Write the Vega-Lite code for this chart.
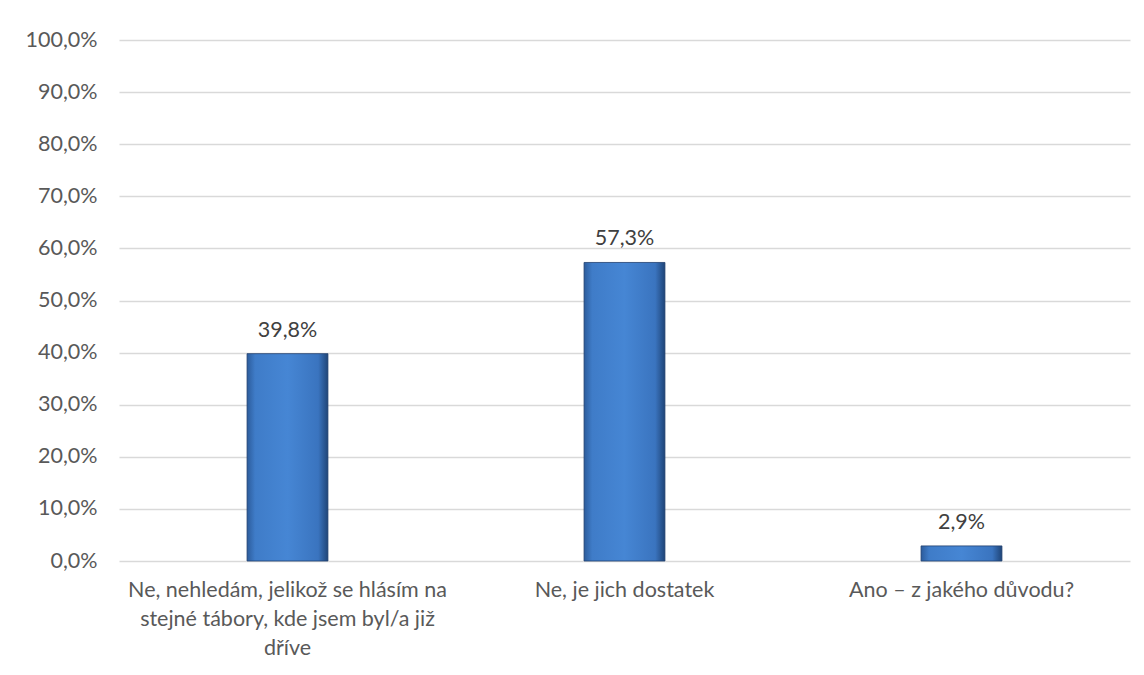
{
  "$schema": "https://vega.github.io/schema/vega-lite/v6.json",
  "width": 1011,
  "height": 521,
  "autosize": {"type": "none"},
  "padding": {"left": 119, "top": 40, "right": 14, "bottom": 114},
  "background": "white",
  "config": {
    "locale": {"number": {"decimal": ",", "thousands": " ", "grouping": [3], "currency": ["", " Kč"]}},
    "view": {"stroke": null},
    "font": "Lato"
  },
  "data": {
    "values": [
      {"kategorie": "Ne, nehledám, jelikož se hlásím na|stejné tábory, kde jsem byl/a již|dříve", "podil": 0.398},
      {"kategorie": "Ne, je jich dostatek", "podil": 0.573},
      {"kategorie": "Ano – z jakého důvodu?", "podil": 0.029}
    ]
  },
  "encoding": {
    "x": {
      "field": "kategorie",
      "type": "nominal",
      "sort": null,
      "scale": {"paddingInner": 0.76, "paddingOuter": 0.38},
      "axis": {
        "title": null,
        "labelAngle": 0,
        "domain": false,
        "ticks": false,
        "labelPadding": 18,
        "labelFont": "Lato",
        "labelFontSize": 21.5,
        "labelColor": "#595959",
        "labelLineHeight": 29,
        "labelLimit": 450,
        "labelOverlap": false,
        "labelExpr": "split(datum.value, '|')"
      }
    },
    "y": {
      "field": "podil",
      "type": "quantitative",
      "scale": {"domain": [0, 1], "nice": false},
      "axis": {
        "title": null,
        "format": ".1%",
        "values": [0, 0.1, 0.2, 0.3, 0.4, 0.5, 0.6, 0.7, 0.8, 0.9, 1],
        "labelOverlap": false,
        "domain": false,
        "ticks": false,
        "labelPadding": 22,
        "labelFont": "Lato",
        "labelFontSize": 21.5,
        "labelColor": "#595959",
        "gridColor": "#d9d9d9",
        "gridWidth": 1.5
      }
    }
  },
  "layer": [
    {
      "mark": {
        "type": "bar",
        "stroke": "#1f3f6e",
        "strokeWidth": 0.8,
        "color": {
          "gradient": "linear",
          "x1": 0, "x2": 1, "y1": 0, "y2": 0,
          "stops": [
            {"offset": 0, "color": "#2c5c9c"},
            {"offset": 0.1, "color": "#3f7cc8"},
            {"offset": 0.5, "color": "#4686d4"},
            {"offset": 0.88, "color": "#3a74bf"},
            {"offset": 1, "color": "#1f4578"}
          ]
        }
      }
    },
    {
      "mark": {
        "type": "text",
        "baseline": "bottom",
        "dy": -12,
        "font": "Lato",
        "fontSize": 21.5,
        "color": "#404040"
      },
      "encoding": {
        "text": {"field": "podil", "type": "quantitative", "format": ".1%"}
      }
    }
  ]
}
